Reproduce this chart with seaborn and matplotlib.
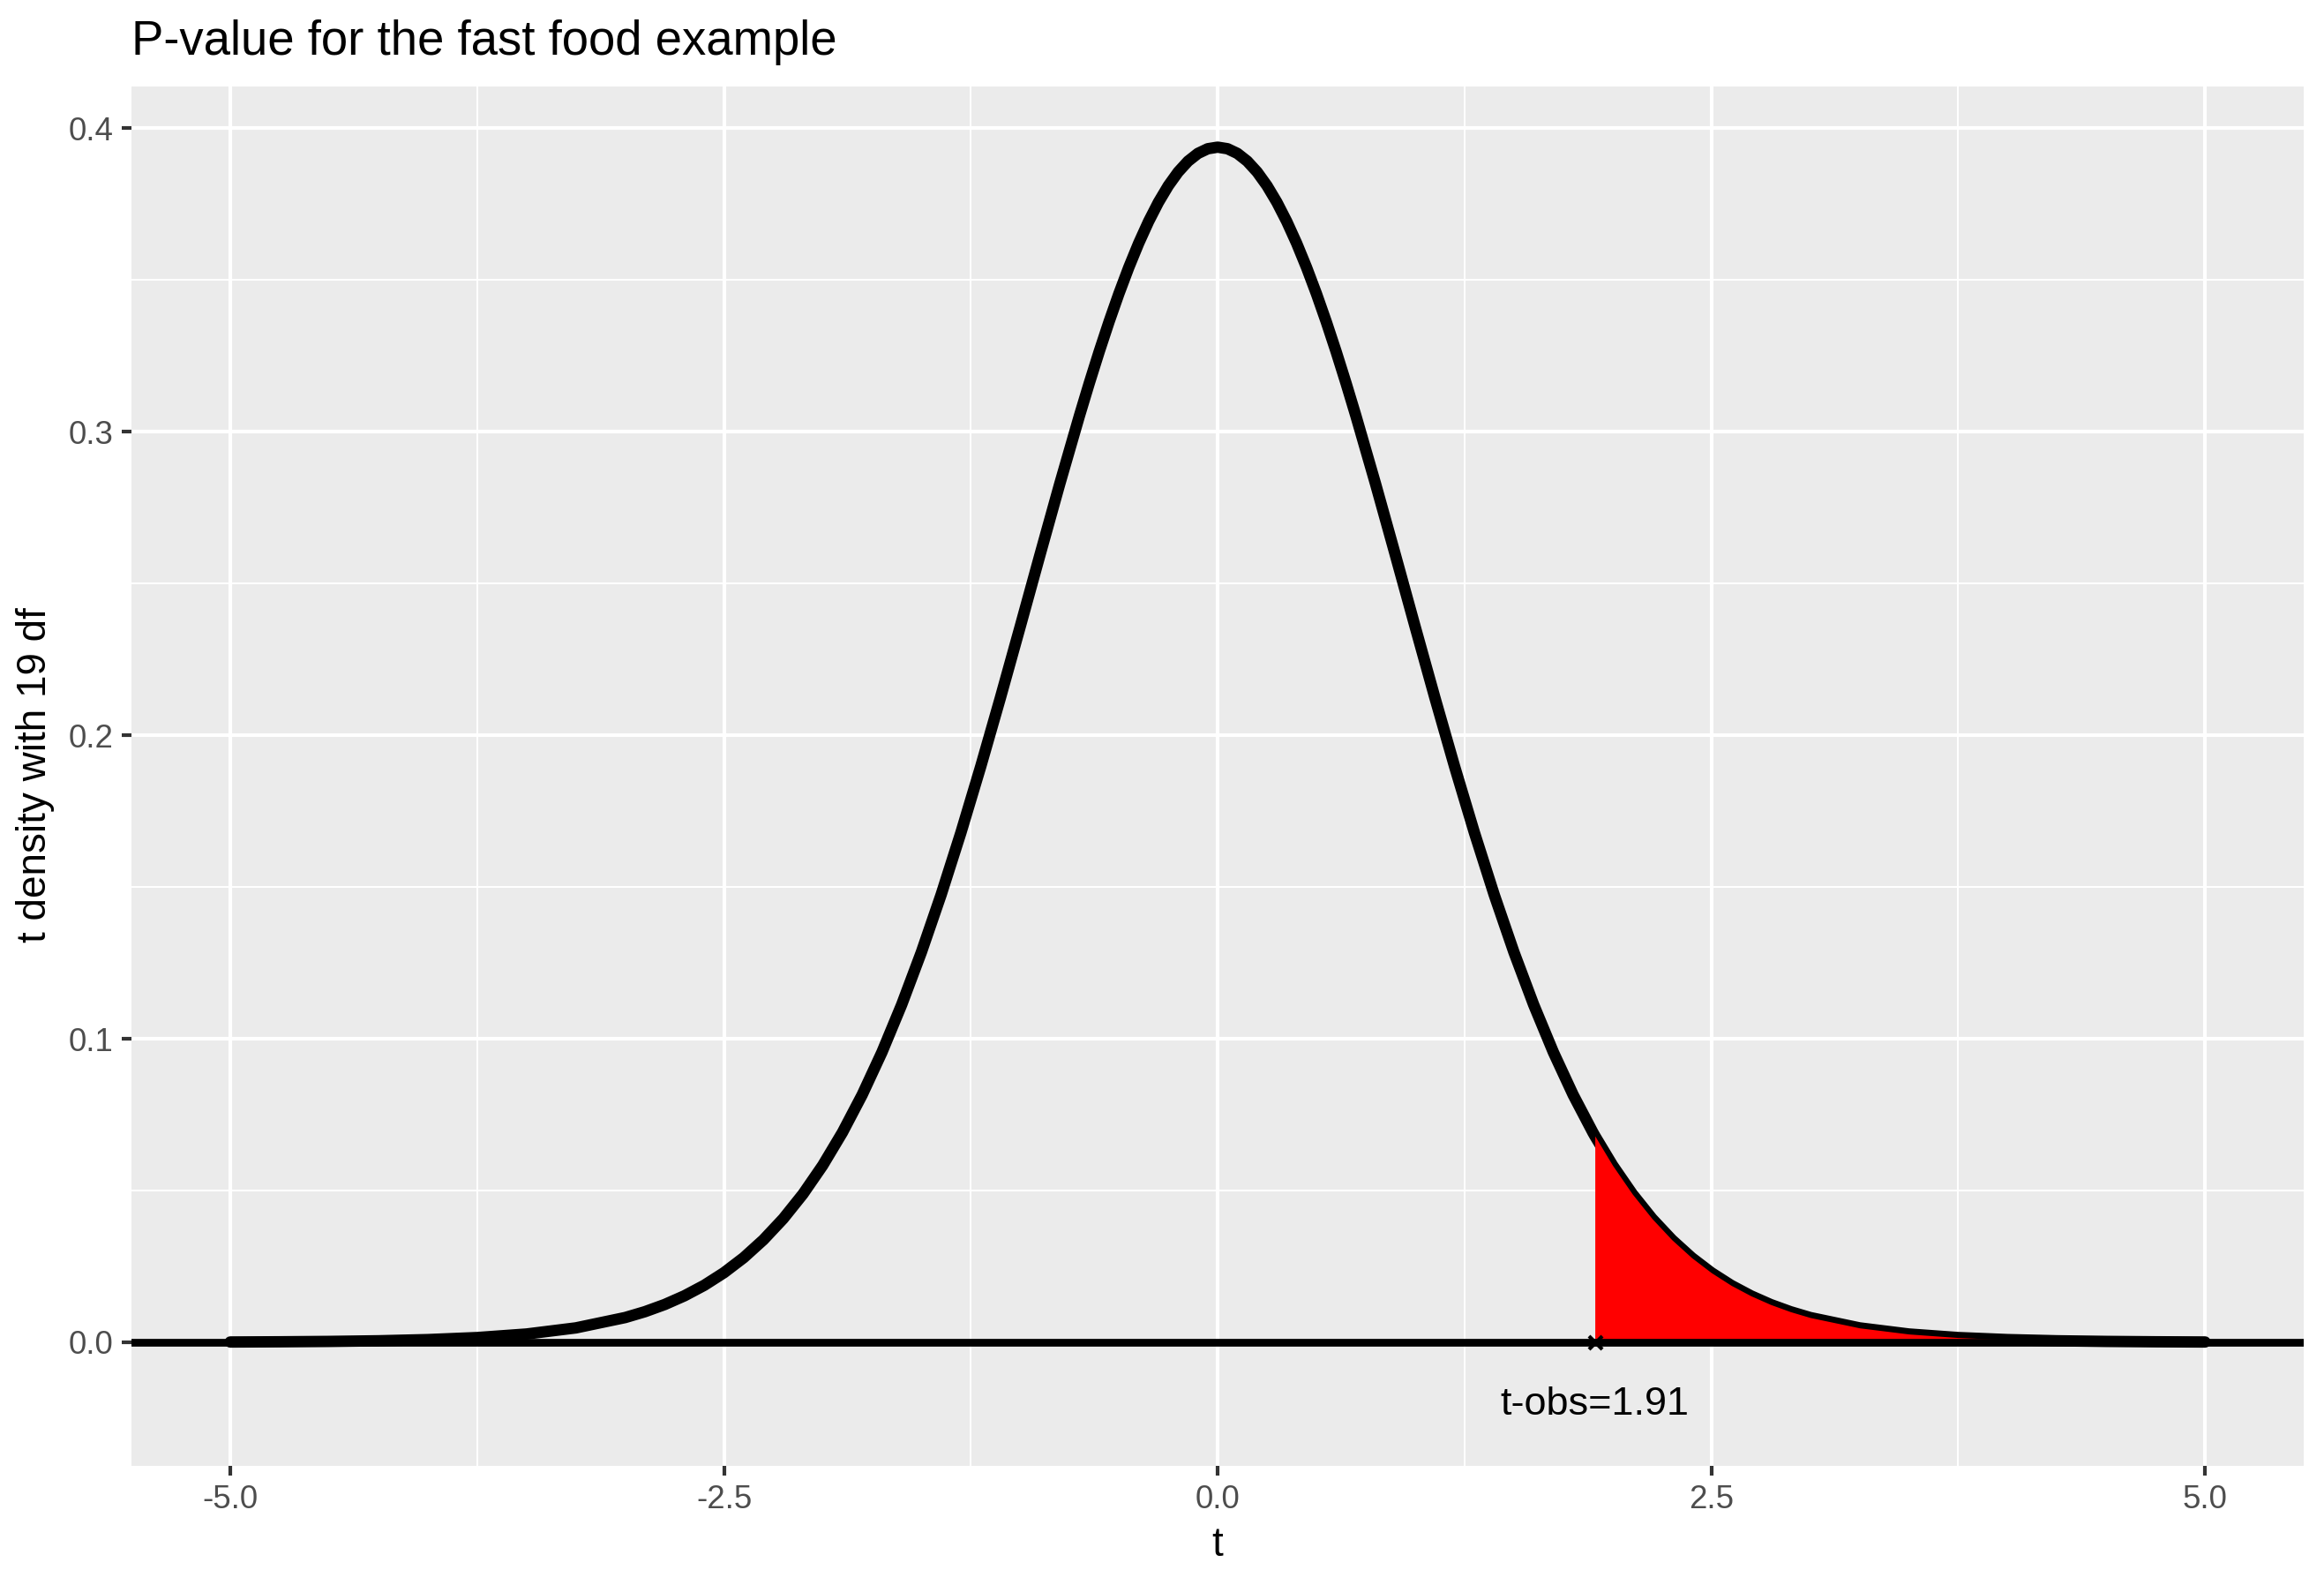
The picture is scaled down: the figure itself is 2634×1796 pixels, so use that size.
import seaborn as sns, matplotlib.pyplot as plt, pandas as pd, numpy as np

# t values and t(19) density
t_neg = [-5.0, -4.75, -4.5, -4.25, -4.0, -3.75, -3.5, -3.25, -3.0,
         -2.9, -2.8, -2.7, -2.6, -2.5, -2.4, -2.3, -2.2, -2.1, -2.0,
         -1.9, -1.8, -1.7, -1.6, -1.5, -1.4, -1.3, -1.2, -1.1, -1.0,
         -0.9, -0.8, -0.7, -0.65, -0.6, -0.55, -0.5, -0.45, -0.4, -0.35,
         -0.3, -0.25, -0.2, -0.15, -0.1, -0.05]
dens_neg = [0.00009, 0.00016, 0.00028, 0.00049, 0.00088, 0.00155, 0.00272, 0.00474, 0.00815,
            0.01008, 0.01244, 0.01531, 0.01876, 0.02292, 0.02788, 0.03377, 0.04071, 0.04883, 0.05827,
            0.06914, 0.08154, 0.09556, 0.11124, 0.12857, 0.14751, 0.16793, 0.18964, 0.21236, 0.23574,
            0.25935, 0.28270, 0.30522, 0.31600, 0.32635, 0.33620, 0.34548, 0.35412, 0.36206, 0.36922,
            0.37556, 0.38101, 0.38554, 0.38910, 0.39166, 0.39321]
t_pos = [0.0, 0.05, 0.1, 0.15, 0.2, 0.25, 0.3, 0.35, 0.4, 0.45, 0.5,
         0.55, 0.6, 0.65, 0.7, 0.8, 0.9, 1.0,
         1.1, 1.2, 1.3, 1.4, 1.5, 1.6, 1.7, 1.8, 1.9, 1.91, 2.0,
         2.1, 2.2, 2.3, 2.4, 2.5, 2.6, 2.7, 2.8, 2.9, 3.0,
         3.25, 3.5, 3.75, 4.0, 4.25, 4.5, 4.75, 5.0]
dens_pos = [0.39373, 0.39321, 0.39166, 0.38910, 0.38554, 0.38101, 0.37556, 0.36922, 0.36206, 0.35412, 0.34548,
            0.33620, 0.32635, 0.31600, 0.30522, 0.28270, 0.25935, 0.23574,
            0.21236, 0.18964, 0.16793, 0.14751, 0.12857, 0.11124, 0.09556, 0.08154, 0.06914, 0.06799, 0.05827,
            0.04883, 0.04071, 0.03377, 0.02788, 0.02292, 0.01876, 0.01531, 0.01244, 0.01008, 0.00815,
            0.00474, 0.00272, 0.00155, 0.00088, 0.00049, 0.00028, 0.00016, 0.00009]

t_obs = 1.91
obs_label = "t-obs=1.91"
x_ticks = [-5.0, -2.5, 0.0, 2.5, 5.0]
y_ticks = [0.0, 0.1, 0.2, 0.3, 0.4]

df = pd.DataFrame({'t': t_neg + t_pos, 'density': dens_neg + dens_pos})
tail = df[df['t'] >= t_obs]

sns.set_theme(style='darkgrid', rc={
    'axes.facecolor': '#EBEBEB', 'grid.color': 'white', 'text.color': 'black',
    'xtick.color': '#333333', 'ytick.color': '#333333',
    'xtick.labelcolor': '#4D4D4D', 'ytick.labelcolor': '#4D4D4D',
    'axes.unicode_minus': False})
plt.rcParams['font.family'] = ['Liberation Sans', 'DejaVu Sans']

fig = plt.figure(figsize=(2634/300, 1796/300), dpi=300)
ax = fig.add_axes([0.0566, 0.0752, 0.9347, 0.8702])

#density curve, then the red tail on top of it
sns.lineplot(data=df, x='t', y='density', estimator=None, color='black', linewidth=3.1,
             ax=ax, zorder=2)
ax.fill_between(tail['t'], 0, tail['density'], color='red', linewidth=0, zorder=3)
ax.axhline(0, color='black', linewidth=2.1, zorder=4)
ax.plot([t_obs], [0], marker='x', color='black', markersize=3.6, markeredgewidth=1.0, zorder=5)
ax.text(t_obs, -0.0205, obs_label, ha='center', va='center', fontsize=10.8, color='black', zorder=5)

ax.set_xlim(-5.5, 5.5)
ax.set_ylim(-0.0407, 0.4137)
ax.set_xticks(x_ticks)
ax.set_xticklabels(['%.1f' % v for v in x_ticks])
ax.set_yticks(y_ticks)
ax.set_yticklabels(['%.1f' % v for v in y_ticks])
ax.set_xticks([-3.75, -1.25, 1.25, 3.75], minor=True)
ax.set_yticks([0.05, 0.15, 0.25, 0.35], minor=True)
ax.grid(which='major', color='white', linewidth=1.0)
ax.grid(which='minor', color='white', linewidth=0.5)
ax.tick_params(which='major', length=2.75, width=1.0, labelsize=8.8, pad=2.2, bottom=True, left=True)
ax.tick_params(which='minor', length=0)
for s in ax.spines.values():
    s.set_visible(False)
ax.set_xlabel('')
ax.set_ylabel('')

fig.text(0.0566, 1 - 62/1796, 'P-value for the fast food example', fontsize=13.1, ha='left', va='baseline')
fig.text(0.5 * (0.0566 + 0.9913), 1 - 1763/1796, 't', fontsize=11, ha='center', va='baseline')
fig.text(40/2634, 0.511, 't density with 19 df', fontsize=11, rotation=90, ha='center', va='center')

fig.savefig('out.png', dpi=300, facecolor='white')
